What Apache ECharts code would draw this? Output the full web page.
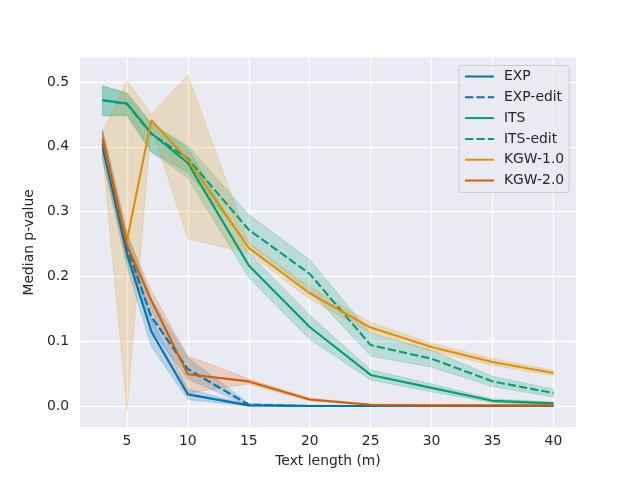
<!DOCTYPE html>
<html>
<head>
<meta charset="utf-8">
<script src="https://cdn.jsdelivr.net/npm/echarts@6/dist/echarts.min.js"></script>
<style>
html,body{margin:0;padding:0;background:#ffffff;}
#chart{width:640px;height:480px;}
</style>
</head>
<body>
<div id="chart"></div>
<script>
// ---- data ----
const textLengths = [3, 5, 7, 10, 15, 20, 25, 30, 35, 40];
const xTicks = [5, 10, 15, 20, 25, 30, 35, 40];
const yTicks = [0.0, 0.1, 0.2, 0.3, 0.4, 0.5];
const seriesNames = ['EXP', 'EXP-edit', 'ITS', 'ITS-edit', 'KGW-1.0', 'KGW-2.0'];

const expMed   = [0.400, 0.235, 0.115, 0.018, 0.001, 0.000, 0.000, 0.000, 0.000, 0.000];
const expLo    = [0.380, 0.215, 0.092, 0.010, 0.000, 0.000, 0.000, 0.000, 0.000, 0.000];
const expHi    = [0.422, 0.258, 0.135, 0.026, 0.002, 0.001, 0.001, 0.001, 0.001, 0.001];

const expEdMed = [0.405, 0.245, 0.138, 0.057, 0.002, 0.000, 0.000, 0.000, 0.000, 0.000];
const expEdLo  = [0.385, 0.225, 0.118, 0.042, 0.000, 0.000, 0.000, 0.000, 0.000, 0.000];
const expEdHi  = [0.427, 0.268, 0.165, 0.075, 0.004, 0.001, 0.001, 0.001, 0.001, 0.001];

const itsMed   = [0.472, 0.467, 0.421, 0.375, 0.217, 0.122, 0.048, 0.028, 0.008, 0.004];
const itsLo    = [0.448, 0.449, 0.392, 0.352, 0.198, 0.103, 0.040, 0.022, 0.005, 0.002];
const itsHi    = [0.494, 0.483, 0.436, 0.398, 0.236, 0.140, 0.056, 0.034, 0.011, 0.006];

const itsEdMed = [0.472, 0.466, 0.420, 0.382, 0.272, 0.204, 0.094, 0.073, 0.038, 0.020];
const itsEdLo  = [0.448, 0.448, 0.392, 0.360, 0.250, 0.178, 0.077, 0.060, 0.030, 0.014];
const itsEdHi  = [0.494, 0.483, 0.436, 0.402, 0.295, 0.226, 0.112, 0.086, 0.046, 0.026];

const kgw1Med  = [0.410, 0.255, 0.441, 0.380, 0.244, 0.174, 0.121, 0.091, 0.068, 0.051];
const kgw1Lo   = [0.390, -0.007, 0.432, 0.258, 0.236, 0.165, 0.113, 0.085, 0.063, 0.047];
const kgw1Hi   = [0.423, 0.502, 0.450, 0.511, 0.252, 0.184, 0.129, 0.097, 0.073, 0.055];

const kgw2Med  = [0.413, 0.248, 0.163, 0.049, 0.038, 0.010, 0.002, 0.001, 0.001, 0.001];
const kgw2Lo   = [0.395, 0.230, 0.150, 0.020, 0.034, 0.008, 0.001, 0.000, 0.000, 0.000];
const kgw2Hi   = [0.425, 0.265, 0.178, 0.077, 0.042, 0.012, 0.003, 0.002, 0.002, 0.002];

// ---- styling ----
const colors = ['#0173b2', '#0173b2', '#029e73', '#029e73', '#de8f05', '#d55e00'];
const dashed = [false, true, false, true, false, false];
const meds = [expMed, expEdMed, itsMed, itsEdMed, kgw1Med, kgw2Med];
const los  = [expLo, expEdLo, itsLo, itsEdLo, kgw1Lo, kgw2Lo];
const his  = [expHi, expEdHi, itsHi, itsEdHi, kgw1Hi, kgw2Hi];

function hexToRgba(hex, a) {
  const r = parseInt(hex.slice(1,3),16), g = parseInt(hex.slice(3,5),16), b = parseInt(hex.slice(5,7),16);
  return 'rgba(' + r + ',' + g + ',' + b + ',' + a + ')';
}

const series = [];
// confidence bands first (beneath all lines, like matplotlib zorder)
seriesNames.forEach(function (name, k) {
  series.push({
    name: name + ' band', type: 'custom', silent: true, z: 1,
    clip: true,
    data: textLengths.map(function (x, i) { return [x, los[k][i], his[k][i]]; }),
    encode: { x: 0, y: [1, 2] },
    renderItem: function (params, api) {
      if (params.dataIndex !== 0) return null;
      const pts = [];
      for (let i = 0; i < textLengths.length; i++) pts.push(api.coord([textLengths[i], his[k][i]]));
      for (let i = textLengths.length - 1; i >= 0; i--) pts.push(api.coord([textLengths[i], los[k][i]]));
      return {
        type: 'polygon',
        shape: { points: pts },
        style: { fill: hexToRgba(colors[k], 0.2), stroke: hexToRgba(colors[k], 0.2), lineWidth: 1 }
      };
    }
  });
});
seriesNames.forEach(function (name, k) {
  series.push({
    name: name, type: 'line',
    data: textLengths.map(function (x, i) { return [x, meds[k][i]]; }),
    symbol: 'none', z: 3,
    color: colors[k],
    itemStyle: { color: colors[k] },
    lineStyle: { color: colors[k], width: 2.1, type: dashed[k] ? [8.3, 3.1] : 'solid' },
    emphasis: { disabled: true }
  });
});

const font = 'DejaVu Sans';
const option = {
  animation: false,
  backgroundColor: '#ffffff',
  grid: { left: 80, right: 64, top: 57.6, bottom: 52.8, show: true, backgroundColor: '#eaeaf2', borderWidth: 0 },
  legend: {
    data: seriesNames,
    orient: 'vertical',
    left: 459, top: 65.5,
    padding: [4, 5, 5, 5],
    itemWidth: 29, itemHeight: 14, itemGap: 6.8,
    backgroundColor: 'rgba(234,234,242,0.8)',
    borderColor: '#cccccc', borderWidth: 1, borderRadius: 3,
    itemStyle: { opacity: 0 },
    textStyle: { fontFamily: font, fontSize: 13.9, color: '#262626', padding: [0, 0, 0, 5] }
  },
  xAxis: {
    type: 'value', min: 1.15, max: 41.85,
    name: 'Text length (m)', nameLocation: 'middle', nameGap: 27,
    nameTextStyle: { fontFamily: font, fontSize: 13.9, color: '#262626' },
    axisLine: { show: false },
    axisTick: { show: false, customValues: xTicks },
    axisLabel: { customValues: xTicks, fontFamily: font, fontSize: 13.9, color: '#262626', margin: 7 },
    splitLine: { show: true, lineStyle: { color: '#ffffff', width: 1.4 } }
  },
  yAxis: {
    type: 'value', min: -0.0327, max: 0.5377,
    name: 'Median p-value', nameLocation: 'middle', nameGap: 34,
    nameTextStyle: { fontFamily: font, fontSize: 13.9, color: '#262626' },
    axisLine: { show: false },
    axisTick: { show: false, customValues: yTicks },
    axisLabel: { customValues: yTicks, fontFamily: font, fontSize: 13.9, color: '#262626', margin: 11,
      formatter: function (v) { return v.toFixed(1); } },
    splitLine: { show: true, lineStyle: { color: '#ffffff', width: 1.4 } }
  },
  series: series
};

const chart = echarts.init(document.getElementById('chart'), null, { renderer: 'canvas' });
chart.setOption(option);
</script>
</body>
</html>
